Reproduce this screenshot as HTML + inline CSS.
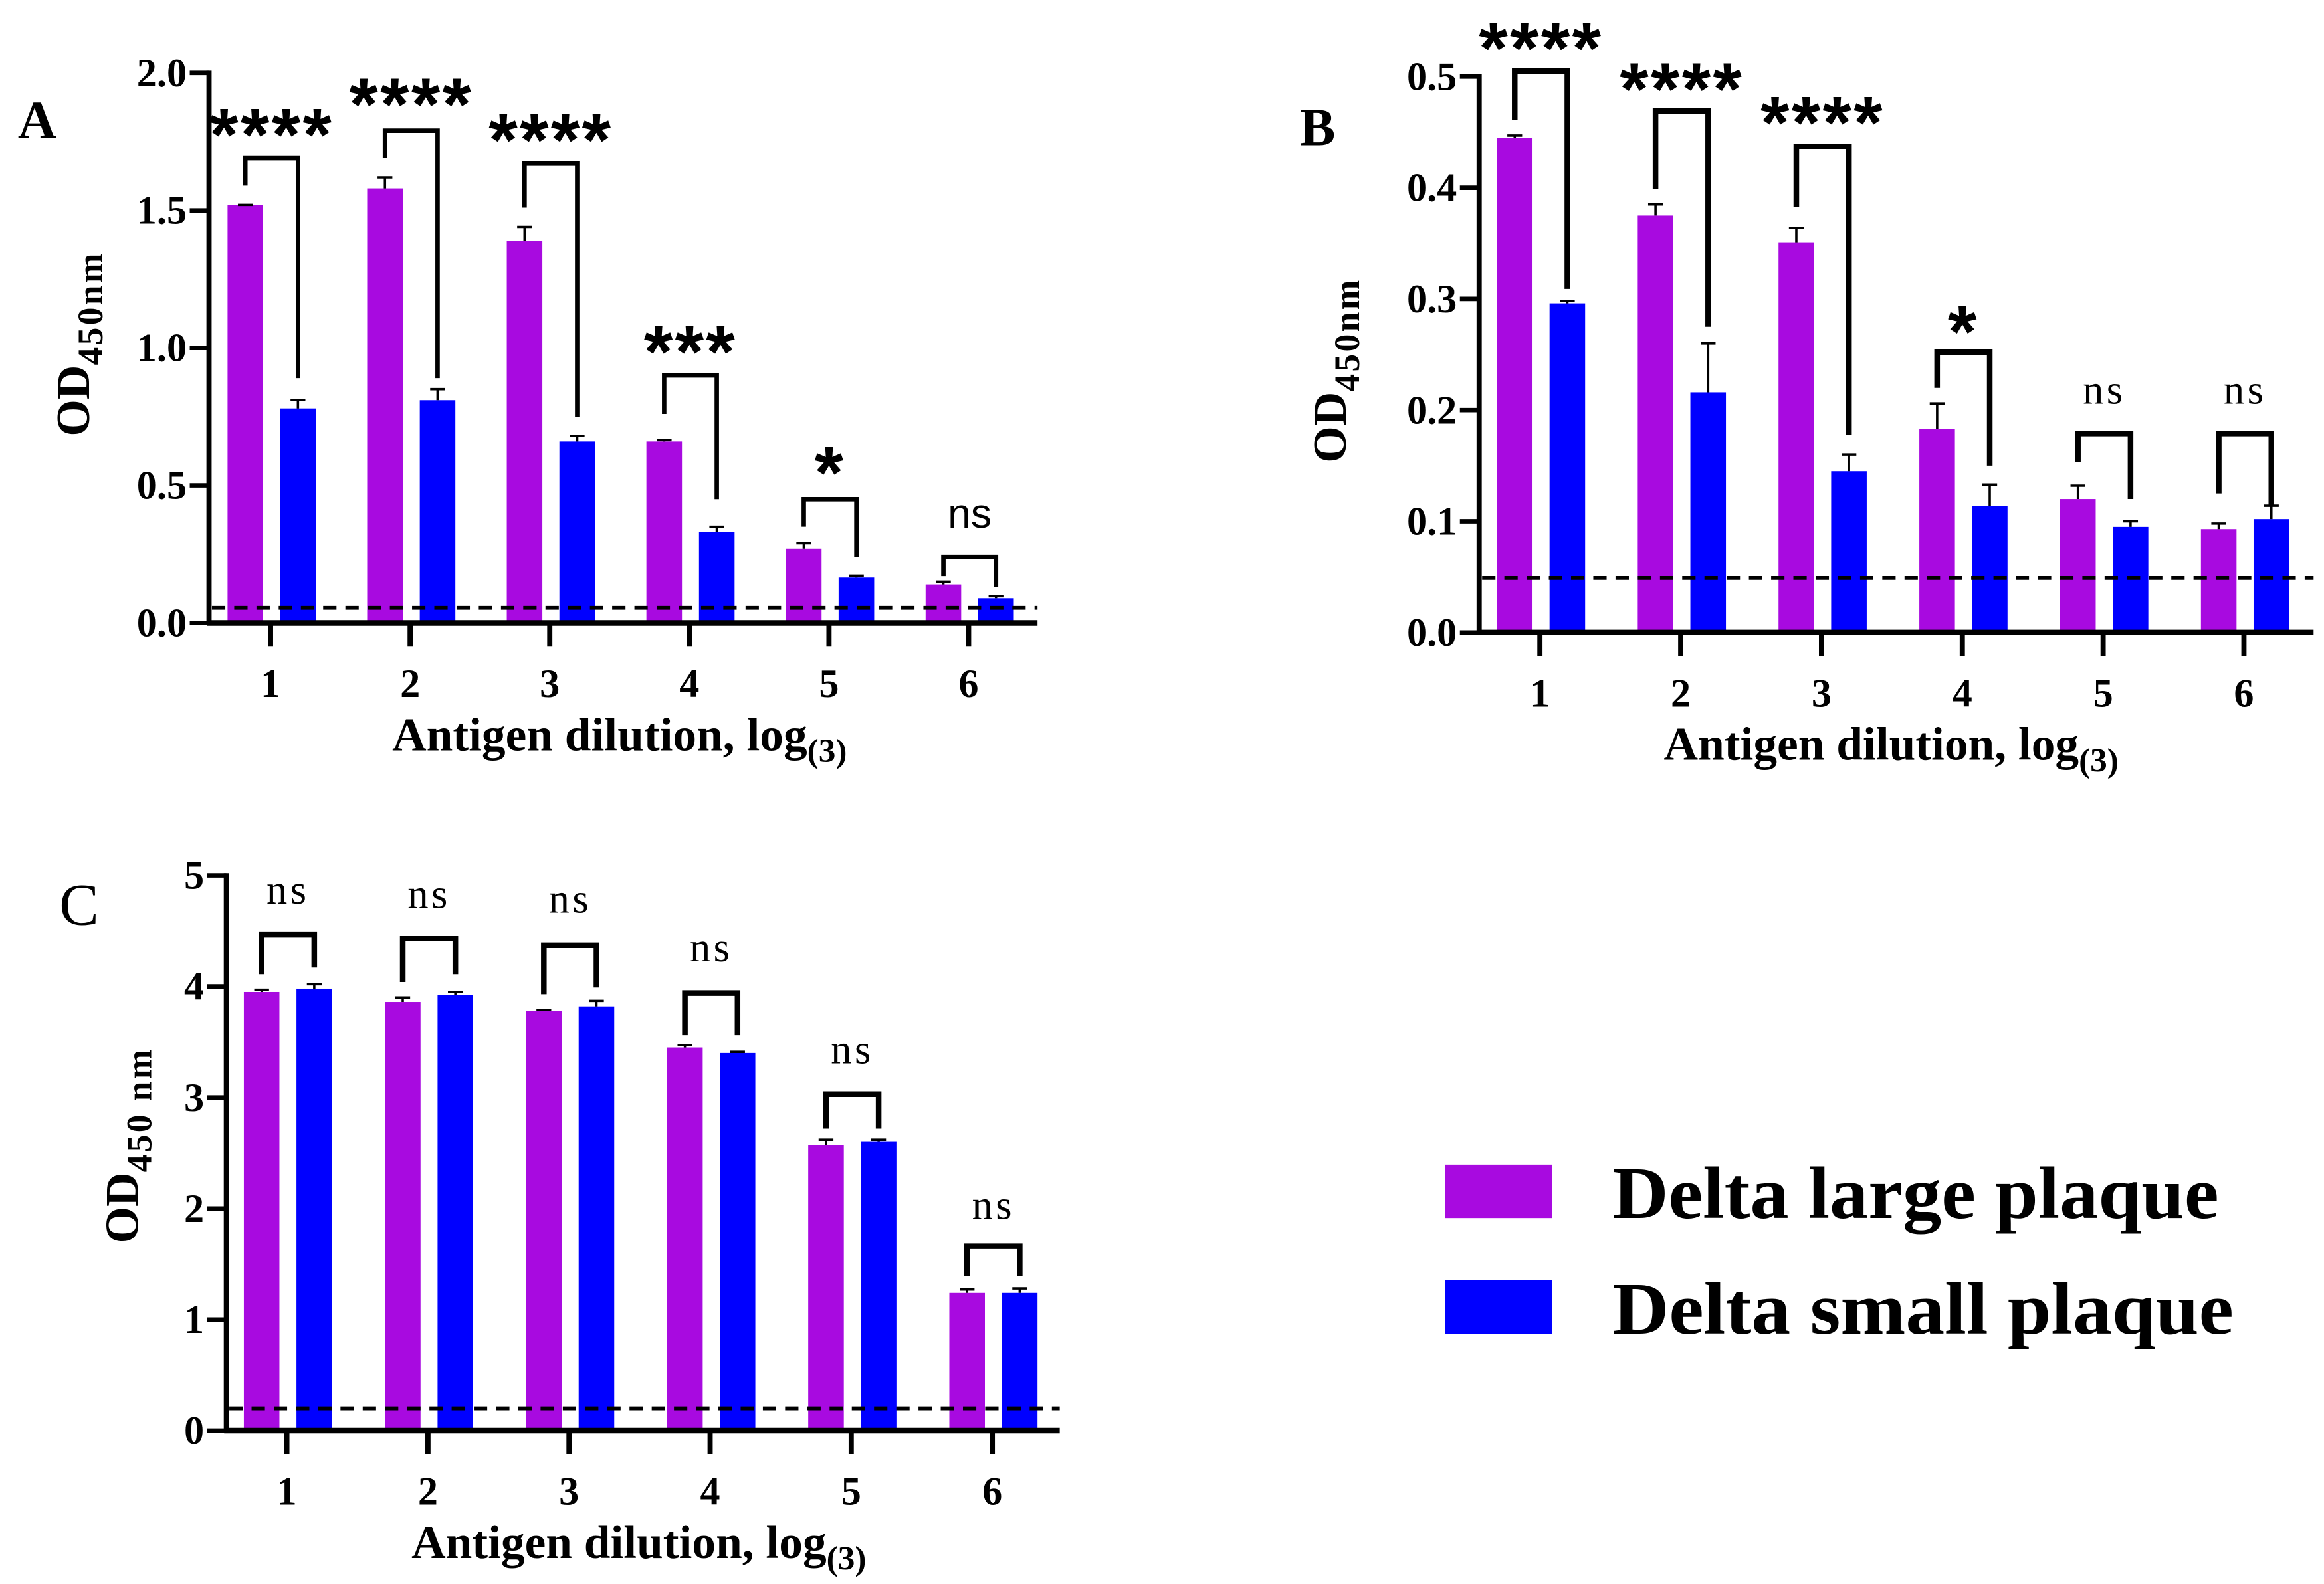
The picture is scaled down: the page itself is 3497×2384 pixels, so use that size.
<!DOCTYPE html>
<html><head><meta charset="utf-8">
<style>
html,body{margin:0;padding:0;background:#fff;}
svg{display:block;}
.tick{font-family:"Liberation Serif",serif;font-weight:bold;font-size:27px;}
.title{font-family:"Liberation Serif",serif;font-weight:bold;font-size:32px;}
.star{font-family:"Liberation Sans",sans-serif;font-weight:bold;font-size:50px;}
</style></head>
<body>
<svg id="fig" width="3497" height="2384" viewBox="0 0 1568 1069" xmlns="http://www.w3.org/2000/svg">
<rect x="0" y="0" width="1568" height="1069" fill="#fff"/>
<text x="12" y="93" font-family="Liberation Serif,serif" font-weight="bold" font-size="36">A</text>
<text x="877" y="98" font-family="Liberation Serif,serif" font-weight="bold" font-size="36">B</text>
<text x="40" y="624" font-family="Liberation Serif,serif" font-size="40">C</text>
<g>
<rect x="975" y="786" width="72" height="36" fill="#a80ae0"/>
<text x="1088" y="822" font-family="Liberation Serif,serif" font-weight="bold" font-size="50" textLength="409" lengthAdjust="spacingAndGlyphs">Delta large plaque</text>
<rect x="975" y="864" width="72" height="36" fill="#0000ff"/>
<text x="1088" y="900" font-family="Liberation Serif,serif" font-weight="bold" font-size="50" textLength="419" lengthAdjust="spacingAndGlyphs">Delta small plaque</text>
</g>
</svg>
<script>
// ---- data ----
const categories = ["1","2","3","4","5","6"];
// Panel A
const aLarge = [1.52,1.58,1.39,0.66,0.27,0.14];
const aLargeErr = [1.52,1.62,1.44,0.665,0.29,0.15];
const aSmall = [0.78,0.81,0.66,0.33,0.165,0.09];
const aSmallErr = [0.81,0.85,0.68,0.35,0.172,0.097];
const aTicks = ["0.0","0.5","1.0","1.5","2.0"];
const aTickVals = [0,0.5,1,1.5,2];
const aCutoff = 0.055;
const aBrTop = [1.69,1.79,1.67,0.90,0.45,0.24];
const aBrLeft = [1.59,1.69,1.51,0.76,0.35,0.17];
const aBrRight = [0.89,0.89,0.75,0.45,0.24,0.13];
const aSig = ["****","****","****","***","*","ns"];
const aSigY = [1.83,1.94,1.81,1.04,0.60,0.385];
// Panel B
const bLarge = [0.445,0.375,0.351,0.183,0.12,0.093];
const bLargeErr = [0.447,0.385,0.364,0.206,0.132,0.098];
const bSmall = [0.296,0.216,0.145,0.114,0.095,0.102];
const bSmallErr = [0.298,0.26,0.16,0.133,0.1,0.114];
const bTicks = ["0.0","0.1","0.2","0.3","0.4","0.5"];
const bTickVals = [0,0.1,0.2,0.3,0.4,0.5];
const bCutoff = 0.049;
const bBrTop = [0.505,0.469,0.437,0.252,0.179,0.179];
const bBrLeft = [0.461,0.399,0.383,0.22,0.153,0.125];
const bBrRight = [0.309,0.275,0.178,0.15,0.12,0.114];
const bSig = ["****","****","****","*","ns","ns"];
const bSigY = [0.539,0.502,0.472,0.284,0.215,0.215];
// Panel C
const cLarge = [3.95,3.86,3.78,3.45,2.57,1.24];
const cLargeErr = [3.97,3.9,3.79,3.47,2.62,1.27];
const cSmall = [3.98,3.92,3.82,3.40,2.60,1.24];
const cSmallErr = [4.02,3.95,3.87,3.41,2.62,1.28];
const cTicks = ["0","1","2","3","4","5"];
const cTickVals = [0,1,2,3,4,5];
const cCutoff = 0.2;
const cBrTop = [4.47,4.43,4.37,3.94,3.03,1.66];
const cBrLeft = [4.11,4.04,3.93,3.56,2.72,1.39];
const cBrRight = [4.17,4.11,3.99,3.56,2.72,1.39];
const cSig = ["ns","ns","ns","ns","ns","ns"];
const cSigY = [4.84,4.80,4.76,4.32,3.40,2.00];

const NS = "http://www.w3.org/2000/svg";
const svg = document.getElementById('fig');
function mk(tag, attrs, parent){
  const e = document.createElementNS(NS, tag);
  for (const k in attrs) e.setAttribute(k, attrs[k]);
  (parent||svg).appendChild(e);
  return e;
}

function panel(p){
  const g = mk('g', {});
  
  
  const ymax = p.tickVals[p.tickVals.length-1];
  const y = v => p.y0 - (v/ymax)*(p.y0 - p.yTop);
  const x = i => p.x1 + i*p.step;
  for (let i=0;i<categories.length;i++){
    const specs = [[p.large,p.largeErr,'#a80ae0',-17,'large'],[p.small,p.smallErr,'#0000ff',18.5,'small']];
    for (const s of specs){
      const cx = x(i)+s[3], v = s[0][i], ev = s[1][i];
      const r = mk('rect',{x:cx-12,y:y(v),width:24,height:p.y0-y(v),fill:s[2]},g);
      
      
      const e = mk('path',{d:`M${cx} ${y(v)} V${y(ev)} M${cx-5} ${y(ev)} H${cx+5}`,stroke:'#000','stroke-width':1.6,fill:'none'},g);
      
      
    }
    const lx = x(i)-17, rx = x(i)+18.5;
    const b = mk('path',{d:`M${lx} ${y(p.brLeft[i])} V${y(p.brTop[i])} H${rx} V${y(p.brRight[i])}`,stroke:'#000','stroke-width':p.brW,fill:'none'},g);
    
    
    const lab = p.sig[i];
    let t;
    if (lab.indexOf('*')>=0){
      t = mk('text',{x:(lx+rx)/2,y:y(p.sigY[i])+27,'text-anchor':'middle','class':'star','letter-spacing':1.5},g);
    } else {
      t = mk('text',{x:(lx+rx)/2,y:y(p.sigY[i])+7,'text-anchor':'middle','font-family':p.nsFont,'font-size':p.nsSize,'letter-spacing':p.nsLs},g);
    }
    t.textContent = lab;
    
    
    const tk = mk('line',{x1:x(i),x2:x(i),y1:p.y0,y2:p.y0+16,stroke:'#000','stroke-width':3.5},g);
    
    
    const tl = mk('text',{x:x(i),y:p.y0+50,'text-anchor':'middle','class':'tick'},g);
    tl.textContent = categories[i];
    
    
  }
  const d = mk('line',{x1:p.ax+2,x2:p.xEnd,y1:y(p.cutoff),y2:y(p.cutoff),stroke:'#000','stroke-width':2.6,'stroke-dasharray':'9 6'},g);
  
  
  const ya = mk('line',{x1:p.ax,x2:p.ax,y1:p.yTop-1.5,y2:p.y0+1.5,stroke:'#000','stroke-width':3.5},g);
  
  
  const xa = mk('line',{x1:p.ax-1.5,x2:p.xEnd,y1:p.y0,y2:p.y0,stroke:'#000','stroke-width':3.8},g);
  
  
  for (let j=0;j<p.tickVals.length;j++){
    const yy = y(p.tickVals[j]);
    const l = mk('line',{x1:p.ax-13,x2:p.ax,y1:yy,y2:yy,stroke:'#000','stroke-width':3},g);
    
    
    const t = mk('text',{x:p.ax-15,y:yy+9,'text-anchor':'end','class':'tick'},g);
    t.textContent = p.ticks[j];
    
    
  }
  const xt = mk('text',{x:p.xtX,y:p.y0+86,'text-anchor':'middle','class':'title'},g);
  xt.innerHTML = 'Antigen dilution, log<tspan font-size="23" dy="8">(3)</tspan>';
  
  
  const yt = mk('text',{x:0,y:0,'text-anchor':'middle','class':'title','font-size':35,transform:`translate(${p.ytX},${p.ytY}) rotate(-90)`},g);
  yt.innerHTML = 'OD<tspan font-size="24" dy="9" letter-spacing="1.5">'+p.sub+'</tspan>';
  
  
}

panel({name:'panel-a',x1:182.5,step:94.2,ax:141,xEnd:700,y0:420.4,yTop:49.2,tickVals:aTickVals,ticks:aTicks,
  large:aLarge,largeErr:aLargeErr,small:aSmall,smallErr:aSmallErr,cutoff:aCutoff,brTop:aBrTop,brLeft:aBrLeft,brRight:aBrRight,
  sig:aSig,sigY:aSigY,brW:3,nsFont:'Liberation Sans, sans-serif',nsSize:28,nsLs:0,xtX:418,ytX:60,ytY:232,sub:'450nm'});
panel({name:'panel-b',x1:1039,step:95,ax:998,xEnd:1561,y0:426.8,yTop:51.7,tickVals:bTickVals,ticks:bTicks,
  large:bLarge,largeErr:bLargeErr,small:bSmall,smallErr:bSmallErr,cutoff:bCutoff,brTop:bBrTop,brLeft:bBrLeft,brRight:bBrRight,
  sig:bSig,sigY:bSigY,brW:3.8,nsFont:'Liberation Serif, serif',nsSize:28,nsLs:2,xtX:1276,ytX:908,ytY:250,sub:'450nm'});
panel({name:'panel-c',x1:193.5,step:95.2,ax:152.7,xEnd:715,y0:965.4,yTop:590.8,tickVals:cTickVals,ticks:cTicks,
  large:cLarge,largeErr:cLargeErr,small:cSmall,smallErr:cSmallErr,cutoff:cCutoff,brTop:cBrTop,brLeft:cBrLeft,brRight:cBrRight,
  sig:cSig,sigY:cSigY,brW:3.8,nsFont:'Liberation Serif, serif',nsSize:28,nsLs:2,xtX:431,ytX:93,ytY:773,sub:'450 nm'});
</script>
</body></html>
